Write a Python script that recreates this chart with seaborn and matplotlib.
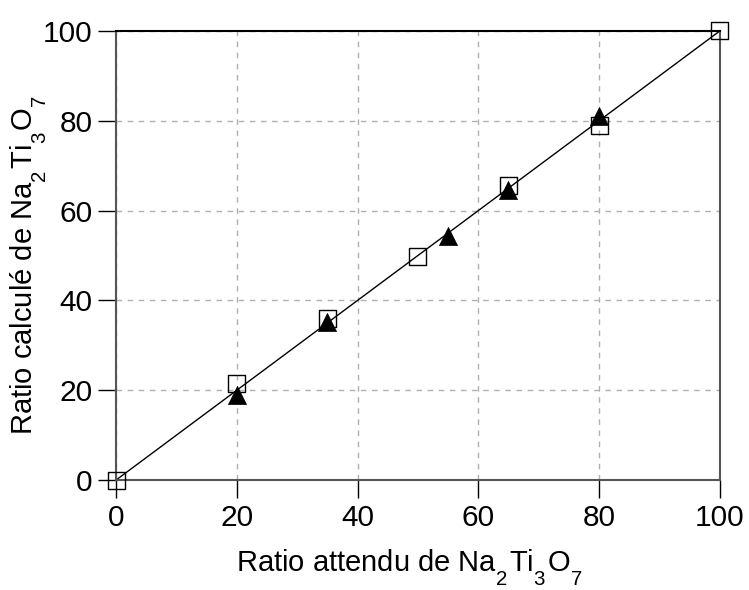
import numpy as np
import pandas as pd
import matplotlib
matplotlib.use("Agg")
import matplotlib.pyplot as plt
import matplotlib._mathtext as mathtext_internals
import seaborn as sns

# data
attendu_sq = [0, 20, 35, 50, 65, 80, 100]
calcule_sq = [0, 21.5, 36, 49.7, 65.5, 79, 100]
attendu_tri = [20, 35, 55, 65, 80]
calcule_tri = [19, 35.2, 54.3, 64.5, 81]
fit_x = [0, 100]
fit_y = [0, 100]
ticks = [0, 20, 40, 60, 80, 100]

sns.set_style("ticks")
plt.rcParams['font.family'] = ['Liberation Sans', 'DejaVu Sans']
plt.rcParams['mathtext.fontset'] = 'custom'
plt.rcParams['mathtext.rm'] = 'Liberation Sans'
plt.rcParams['mathtext.it'] = 'Liberation Sans'
plt.rcParams['text.color'] = 'black'
plt.rcParams['axes.labelcolor'] = 'black'
plt.rcParams['xtick.color'] = 'black'
plt.rcParams['ytick.color'] = 'black'
# subscripts sit well below the baseline in the original
mathtext_internals.FontConstantsBase.sub1 = 0.9
mathtext_internals.FontConstantsBase.script_space = 0.15

fig = plt.figure(figsize=(7.49, 5.90), dpi=100)
ax = fig.add_axes([0.155, 0.1864, 0.806, 0.7611])

sns.lineplot(x=fit_x, y=fit_y, ax=ax, color='black', linewidth=1)
sns.scatterplot(x=attendu_sq, y=calcule_sq, ax=ax, marker='s', s=150,
                facecolors='none', edgecolor='black', linewidth=1, clip_on=False, zorder=3)
sns.scatterplot(x=attendu_tri, y=calcule_tri, ax=ax, marker='^', s=170,
                color='black', edgecolor='black', linewidth=0.5, clip_on=False, zorder=4)

ax.set_xlim(0, 100)
ax.set_ylim(0, 100)
ax.set_xticks(ticks)
ax.set_yticks(ticks)
ax.grid(True, color='#b0b0b0', linestyle=(0, (4, 4)), linewidth=1)
ax.tick_params(direction='out', length=13, width=1, color='black',
               labelsize=21.5, pad=4)
for side in ['left', 'right', 'bottom']:
    ax.spines[side].set_visible(True)
    ax.spines[side].set_color('#555555')
    ax.spines[side].set_linewidth(1.5)
ax.spines['top'].set_visible(True)
ax.spines['top'].set_color('black')
ax.spines['top'].set_linewidth(1.5)

ax.set_xlabel(r'Ratio attendu de Na$_{\mathregular{2}}$Ti$_{\mathregular{3}}$O$_{\mathregular{7}}$',
              fontsize=21, ha='left', va='top')
ax.set_ylabel(r'Ratio calculé de Na$_{\mathregular{2}}$Ti$_{\mathregular{3}}$O$_{\mathregular{7}}$',
              fontsize=21, ha='left', va='top')
ax.xaxis.set_label_coords(0.199, -0.15)
ax.yaxis.set_label_coords(-0.178, 0.1)

fig.savefig('out.png', dpi=100)
